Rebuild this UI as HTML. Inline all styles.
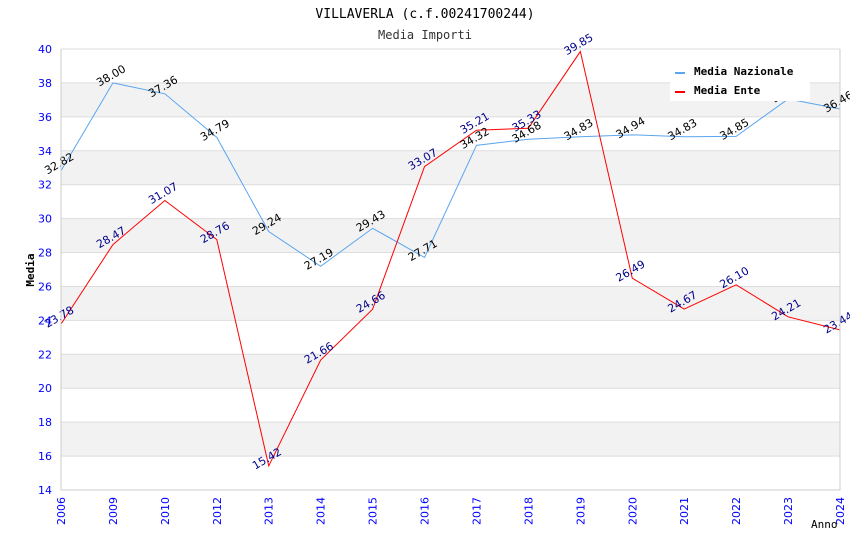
<!DOCTYPE html>
<html><head><meta charset="utf-8"><style>
body{margin:0;background:#fff}
svg text{font-family:"DejaVu Sans","Liberation Sans",sans-serif}
svg text.mono{font-family:"DejaVu Sans Mono","Liberation Mono",monospace}
</style></head><body>
<svg id="c" width="850" height="550" xmlns="http://www.w3.org/2000/svg">
<text class="mono" x="425" y="18" text-anchor="middle" font-size="13" fill="#000">VILLAVERLA (c.f.00241700244)</text>
<text class="mono" x="425" y="39" text-anchor="middle" font-size="12" fill="#333">Media Importi</text>
<g id="bands"></g><g id="grid"></g><g id="lines"></g><g id="labels"></g><g id="axes"></g>
<g>
<rect x="670" y="58" width="140" height="43" fill="#fff"/>
<g><rect x="675" y="72" width="10" height="2" fill="#5aa5f0"/><text class="mono" x="694" y="75" font-size="11" font-weight="bold">Media Nazionale</text></g>
<g><rect x="675" y="91" width="10" height="2" fill="#f00"/><text class="mono" x="694" y="94" font-size="11" font-weight="bold">Media Ente</text></g>
</g>
<text class="mono" x="0" y="0" transform="translate(34,270) rotate(-90)" text-anchor="middle" font-size="11" font-weight="bold">Media</text>
<text class="mono" x="811" y="528" font-size="11">Anno</text>
</svg>
<script>
const categories=["2006","2009","2010","2012","2013","2014","2015","2016","2017","2018","2019","2020","2021","2022","2023","2024"];
const nazionale=[32.82,38.00,37.36,34.79,29.24,27.19,29.43,27.71,34.32,34.68,34.83,34.94,34.83,34.85,37.05,36.46];
const ente=[23.78,28.47,31.07,28.76,15.42,21.66,24.66,33.07,35.21,35.33,39.85,26.49,24.67,26.10,24.21,23.44];
const yTicks=[14,16,18,20,22,24,26,28,30,32,34,36,38,40];
const NS="http://www.w3.org/2000/svg";
const X0=61,X1=840,Y0=490,Y1=49,ymin=14,ymax=40;
const x=i=>X0+i*(X1-X0)/(categories.length-1);
const y=v=>Y0-(v-ymin)*(Y0-Y1)/(ymax-ymin);
function mk(tag,attrs,parent,text){const e=document.createElementNS(NS,tag);for(const k in attrs)e.setAttribute(k,attrs[k]);if(text!==undefined)e.textContent=text;document.getElementById(parent).appendChild(e);return e;}
for(let i=0;i<yTicks.length-1;i++){
  if(i%2===1){const b=mk('rect',{x:X0,y:y(yTicks[i+1]),width:X1-X0,height:y(yTicks[i])-y(yTicks[i+1]),fill:'#f2f2f2'},'bands');
  
  }
}
yTicks.forEach(t=>{
  const l=mk('line',{x1:X0,x2:X1,y1:y(t),y2:y(t),stroke:'#ddd'},'grid');
  
  
  const tx=mk('text',{x:X0-9,y:y(t)+4,'text-anchor':'end','font-size':'11',fill:'#00f'},'axes',String(t));
  
  
});
const ax=mk('path',{d:`M${X0},${Y1}V${Y0}H${X1}V${Y1}`,fill:'none',stroke:'#ccc'},'axes');


categories.forEach((c,i)=>{
  const t=mk('text',{transform:`translate(${x(i)+4},${Y0+7}) rotate(-90)`,'text-anchor':'end','font-size':'11',fill:'#00f'},'axes',c);
  
  
});
function series(vals,color,lc,name){
  const p=mk('polyline',{points:vals.map((v,i)=>x(i)+','+y(v)).join(' '),fill:'none',stroke:color,'stroke-width':'1'},'lines');
  
  
  vals.forEach((v,i)=>{
    const t=mk('text',{transform:`translate(${x(i)},${y(v)-4}) rotate(-30)`,'text-anchor':'middle','font-size':'11',fill:lc},'labels',v.toFixed(2));
    
    
  });
}
series(nazionale,'#5aa5f0','#000','nazionale');
series(ente,'#f00','#00008b','ente');
</script>
</body></html>
